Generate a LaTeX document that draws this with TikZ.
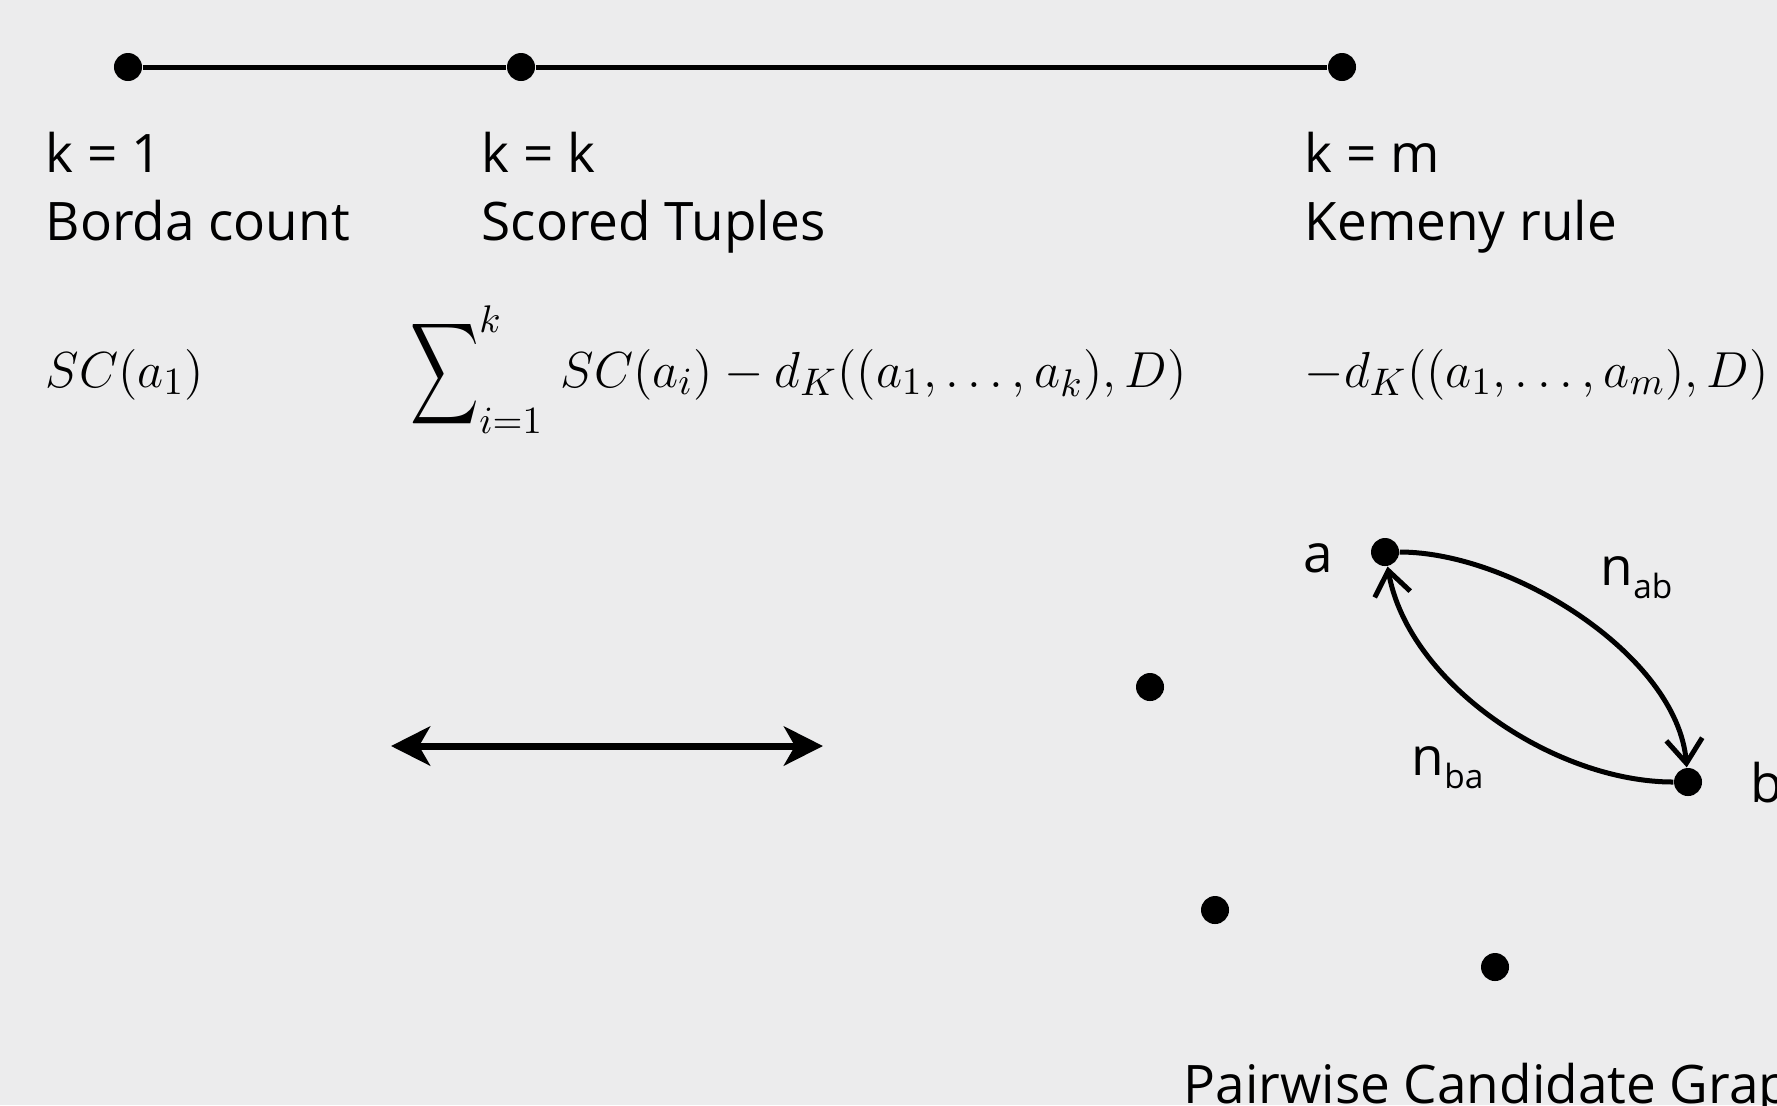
\documentclass[tikz,border=0pt]{standalone}
\usepackage{amsmath}
\usepackage{graphicx}
\usepackage{fontspec}
\setmainfont{Open Sans}
\usetikzlibrary{arrows.meta}
\definecolor{slidegray}{RGB}{236,236,237}
\newcommand{\pairsub}[1]{\raisebox{-3.7pt}{\fontsize{9.5}{11}\selectfont #1}}
\newcommand{\tallsum}{\mathop{\vcenter{\hbox{\scalebox{0.94}[1.4]{$\displaystyle\sum$}}}}\nolimits}

\begin{document}
\begin{tikzpicture}[x=0.01cm, y=-0.01cm, font=\fontsize{15.1}{18}\selectfont,
  dot/.style={circle, fill=black, inner sep=0pt, minimum size=0.28cm},
  txt/.style={anchor=base west, inner sep=0pt},
  thickline/.style={line width=0.05cm},
  pairarrow/.style={line width=0.05cm, -{Straight Barb[length=0.24cm, width=0.36cm]}},
  bigarrow/.style={line width=0.07cm, {Stealth[length=0.39cm, width=0.39cm, inset=0.11cm]}-{Stealth[length=0.39cm, width=0.39cm, inset=0.11cm]}}]
\fill [slidegray] (0,0) rectangle (1777,1105);
\clip (0,0) rectangle (1777,1105);

\node [dot] (p1) at (128,67) {};
\node [dot] (p2) at (521,67) {};
\node [dot] (p3) at (1342,67) {};
\draw [thickline] (p1) -- (p2) -- (p3);

\node [txt] (k1) at (45,172) {k = 1};
\node [txt] (borda) at (45,240) {Borda count};
\node [txt] (kk) at (481,172) {k = k};
\node [txt] (scored) at (481,240) {Scored Tuples};
\node [txt] (km) at (1304,172) {k = m};
\node [txt] (kemeny) at (1304,240) {Kemeny rule};

\node [txt] (bordascore) at (45,387) {$SC(a_1)$};
\node [txt] (tuplescore) at (410,387) {$\tallsum_{i=1}^{k}\, SC(a_i) - d_K((a_1,\dots,a_k),D)$};
\node [txt] (kemenyscore) at (1304,387) {$-d_K((a_1,\dots,a_m),D)$};

\coordinate (left) at (391,746);
\coordinate (right) at (823,746);
\draw [bigarrow] (left) -- (right);

\node [dot] (a) at (1385,552) {};
\node [dot] (b) at (1688,782) {};
\node [dot] (c) at (1150,687) {};
\node [dot] (d) at (1215,910) {};
\node [dot] (e) at (1495,967) {};
\node [txt] (alabel) at (1303,572) {a};
\node [txt] (blabel) at (1750,802) {b};
\node [txt] (nab) at (1600,585) {n\pairsub{ab}};
\node [txt] (nba) at (1411,775) {n\pairsub{ba}};
\draw [pairarrow] (a) to [out=0, in=95, looseness=0.8] (b);
\draw [pairarrow] (b) to [out=180, in=-80, looseness=0.85] (a);

\node [txt] (graphtitle) at (1183,1103) {Pairwise Candidate Graph};
\end{tikzpicture}
\end{document}
